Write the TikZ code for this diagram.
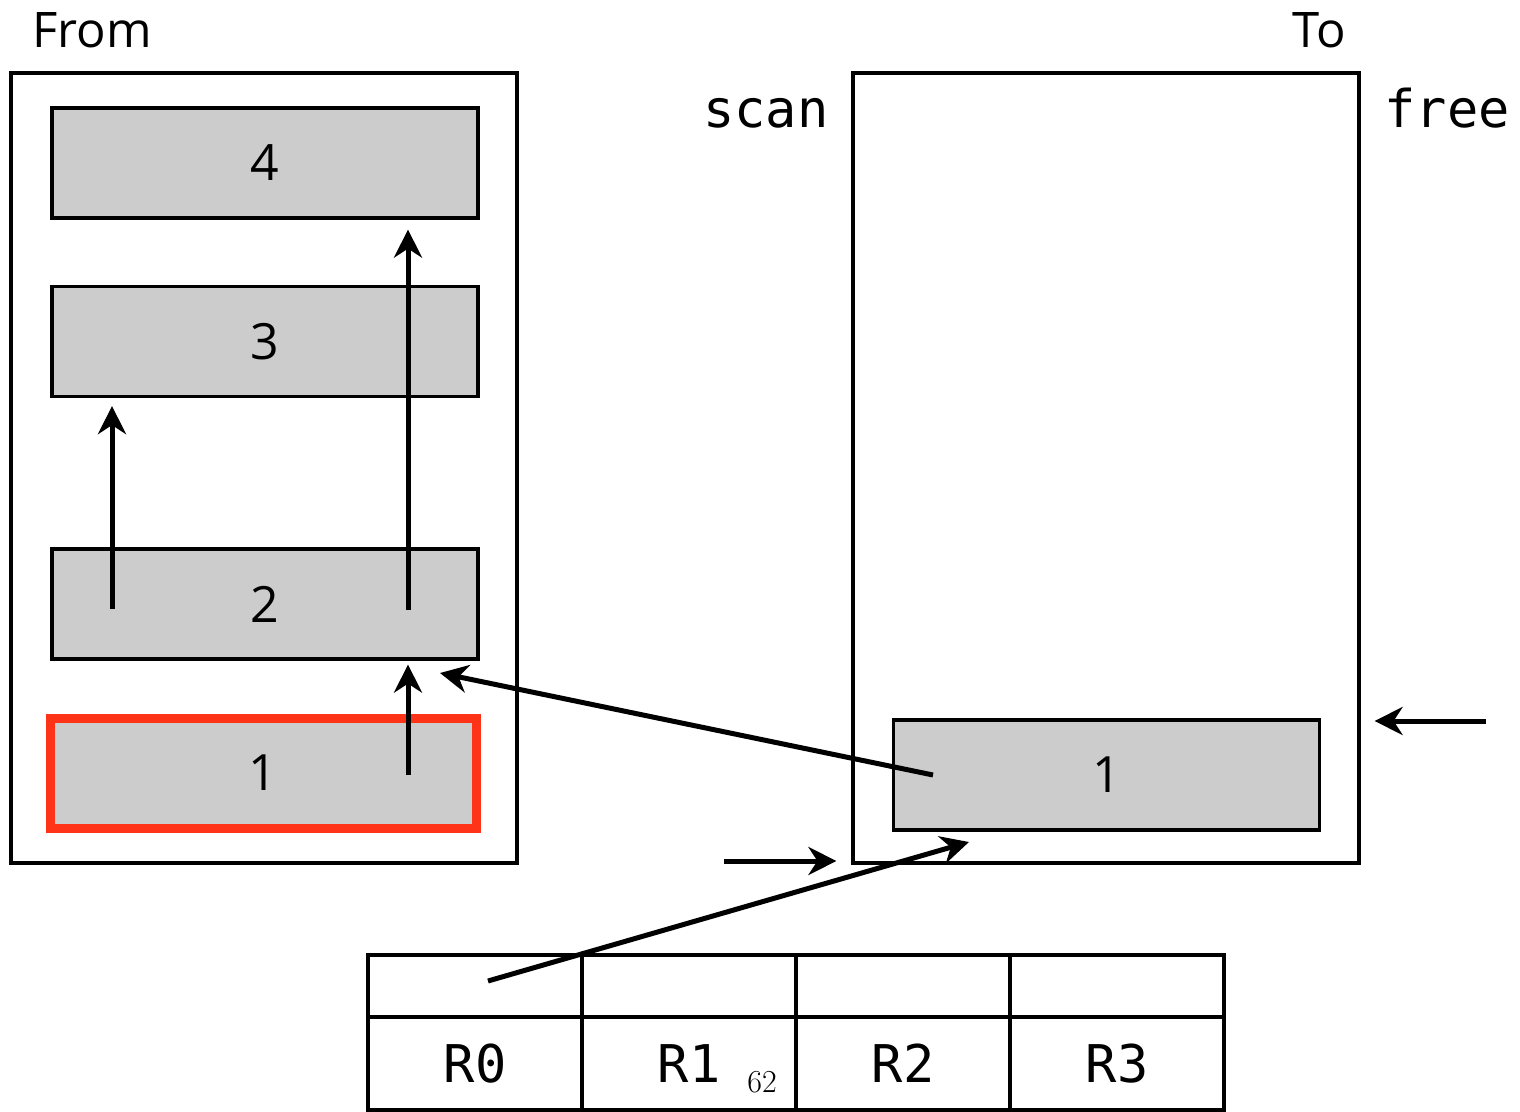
\documentclass[tikz,border=0pt]{standalone}
\usepackage{fontspec}
\setsansfont{Open Sans}
\setmonofont{DejaVu Sans Mono}
\usetikzlibrary{arrows.meta}
\definecolor{markred}{HTML}{FF3318}
\begin{document}
\begin{tikzpicture}[x=0.5pt,y=-0.5pt,
    space/.style={draw,line width=1.6pt,minimum width=253pt,minimum height=395pt,inner sep=0pt},
    block/.style={draw,line width=1.6pt,fill=black!20,minimum width=213pt,minimum height=55pt,inner sep=0pt,
        font=\sffamily\fontsize{25}{25}\selectfont},
    title/.style={inner sep=0pt,font=\sffamily\fontsize{24.5}{24.5}\selectfont},
    reg/.style={inner sep=0pt,font=\ttfamily\fontsize{26}{26}\selectfont},
    cell/.style={draw,line width=1.6pt,minimum width=107pt,inner sep=0pt},
    ptr/.style={line width=2.5pt,-{Stealth[length=14pt,width=14pt,inset=4.5pt]}}]
    \useasboundingbox (0,0) rectangle (1520,1112);

    % Semispaces
    \node[space] (from) at (264,468) {};
    \node[space] (to) at (1106,468) {};
    \node[title,anchor=base west] (fromlbl) at (32,48) {From};
    \node[title,anchor=base east] (tolbl) at (1346,48) {To};
    \node[reg,anchor=base east] (scan) at (829,128) {scan};
    \node[reg,anchor=base west] (free) at (1384,128) {free};

    % Objects
    \node[block] (f4) at (265,163) {4};
    \node[block] (f3) at (265,341.5) {3};
    \node[block] (f2) at (265,604) {2};
    \node[block,draw=markred,line width=4.5pt] (f1) at (263,773) {1};
    \node[block] (t1) at (1106.5,775) {1};

    % Registers
    \foreach \i in {0,...,3} {
        \node[cell,minimum height=31pt] (c\i) at ({475+214*\i},986) {};
        \node[cell,minimum height=46.5pt,reg] (r\i) at ({475+214*\i},1063.5) {R\i};
    }
    \node[inner sep=0pt,font=\rmfamily\fontsize{16}{16}\selectfont,anchor=base] (page) at (762,1092) {62};

    % Pointers
    \coordinate (p2a) at (112,609);
    \coordinate (p2b) at (408,610);
    \coordinate (p1) at (408,775);
    \coordinate (pt1) at (933,775);
    \coordinate (f2in) at (440,673);
    \coordinate (pr0) at (488,981);
    \coordinate (t1in) at (969,842);
    \coordinate (scanp) at (724,861);
    \coordinate (freep) at (1486,721);
    \draw[ptr,shorten >=4pt] (p2a) -- (p2a |- f3.south);
    \draw[ptr,shorten >=5pt] (p2b) -- (p2b |- f4.south);
    \draw[ptr,shorten >=2pt] (p1) -- (p1 |- f2.south);
    \draw[ptr] (pt1) -- (f2in);
    \draw[ptr] (pr0) -- (t1in);
    \draw[ptr,shorten >=7.5pt] (scanp) -- (scanp -| to.west);
    \draw[ptr,shorten >=7pt] (freep) -- (freep -| to.east);
\end{tikzpicture}
\end{document}
